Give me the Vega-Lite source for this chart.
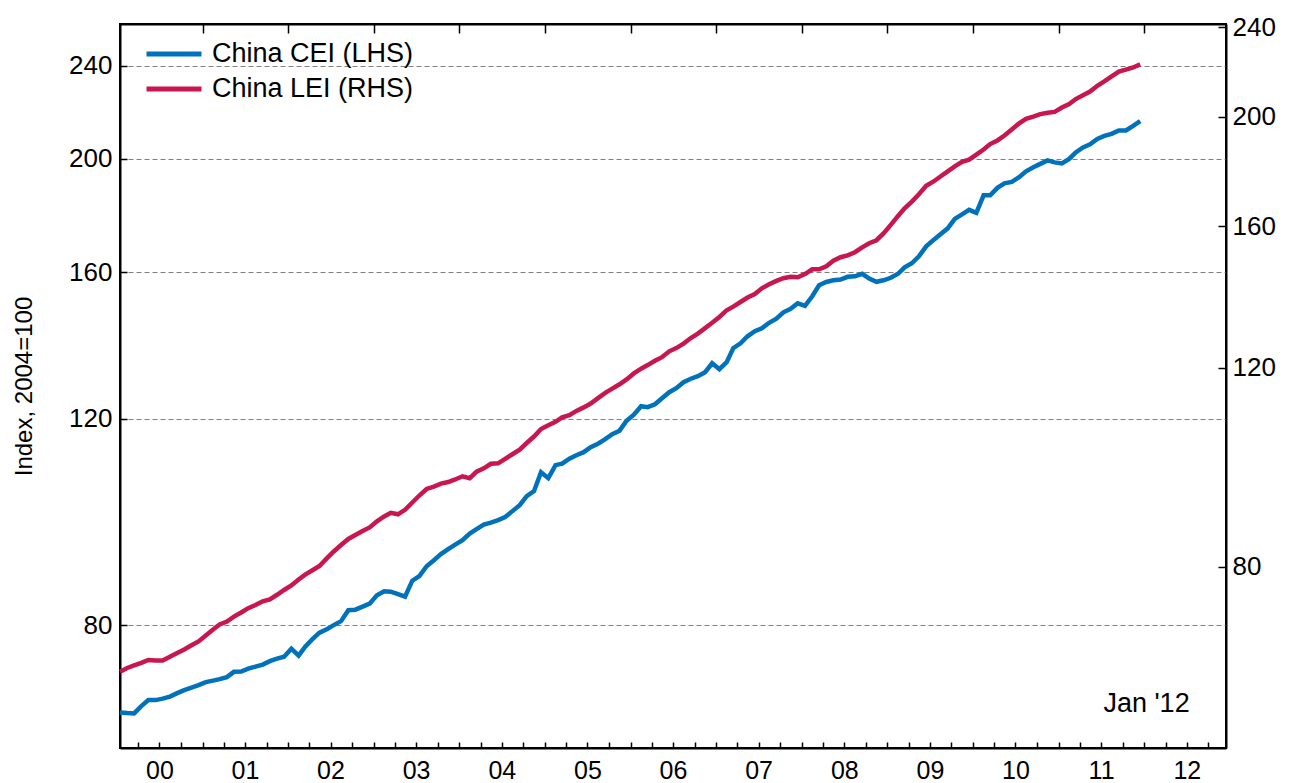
{
  "$schema": "https://vega.github.io/schema/vega-lite/v6.json",
  "width": 1106,
  "height": 724,
  "autosize": "none",
  "padding": {"left": 120, "top": 24, "right": 65, "bottom": 35},
  "background": "white",
  "config": {
    "font": "Liberation Sans",
    "view": {"stroke": "black", "strokeWidth": 2},
    "axis": {
      "domainColor": "black", "domainWidth": 2, "tickColor": "black", "tickWidth": 1.5,
      "labelColor": "black", "labelFont": "Liberation Sans", "labelFontSize": 25,
      "titleFont": "Liberation Sans", "titleColor": "black", "titleFontWeight": "normal"
    }
  },
  "data": {"values": [
    {"date":"2000-01-15","cei":67.40,"lei":64.65},{"date":"2000-02-15","cei":67.31,"lei":65.14},{"date":"2000-03-15","cei":67.27,"lei":65.47},{"date":"2000-04-15","cei":68.24,"lei":65.81},{"date":"2000-05-15","cei":69.05,"lei":66.21},{"date":"2000-06-15","cei":69.05,"lei":66.14},{"date":"2000-07-15","cei":69.25,"lei":66.14},{"date":"2000-08-15","cei":69.53,"lei":66.65},{"date":"2000-09-15","cei":70.00,"lei":67.16},{"date":"2000-10-15","cei":70.42,"lei":67.64},{"date":"2000-11-15","cei":70.76,"lei":68.22},{"date":"2000-12-15","cei":71.11,"lei":68.75},
    {"date":"2001-01-15","cei":71.53,"lei":69.59},{"date":"2001-02-15","cei":71.74,"lei":70.45},{"date":"2001-03-15","cei":71.95,"lei":71.17},{"date":"2001-04-15","cei":72.24,"lei":71.60},{"date":"2001-05-15","cei":72.99,"lei":72.31},{"date":"2001-06-15","cei":73.02,"lei":72.93},{"date":"2001-07-15","cei":73.45,"lei":73.57},{"date":"2001-08-15","cei":73.74,"lei":74.05},{"date":"2001-09-15","cei":74.03,"lei":74.61},{"date":"2001-10-15","cei":74.54,"lei":74.90},{"date":"2001-11-15","cei":74.91,"lei":75.60},{"date":"2001-12-15","cei":75.20,"lei":76.34},
    {"date":"2002-01-15","cei":76.39,"lei":77.04},{"date":"2002-02-15","cei":75.35,"lei":77.99},{"date":"2002-03-15","cei":76.69,"lei":78.77},{"date":"2002-04-15","cei":77.83,"lei":79.46},{"date":"2002-05-15","cei":78.83,"lei":80.16},{"date":"2002-06-15","cei":79.37,"lei":81.40},{"date":"2002-07-15","cei":80.00,"lei":82.56},{"date":"2002-08-15","cei":80.63,"lei":83.66},{"date":"2002-09-15","cei":82.39,"lei":84.69},{"date":"2002-10-15","cei":82.47,"lei":85.38},{"date":"2002-11-15","cei":82.96,"lei":86.08},{"date":"2002-12-15","cei":83.45,"lei":86.70},
    {"date":"2003-01-15","cei":84.85,"lei":87.80},{"date":"2003-02-15","cei":85.52,"lei":88.66},{"date":"2003-03-15","cei":85.44,"lei":89.33},{"date":"2003-04-15","cei":85.02,"lei":89.05},{"date":"2003-05-15","cei":84.60,"lei":89.87},{"date":"2003-06-15","cei":87.30,"lei":91.22},{"date":"2003-07-15","cei":88.09,"lei":92.52},{"date":"2003-08-15","cei":89.82,"lei":93.76},{"date":"2003-09-15","cei":90.89,"lei":94.23},{"date":"2003-10-15","cei":91.98,"lei":94.79},{"date":"2003-11-15","cei":92.89,"lei":95.10},{"date":"2003-12-15","cei":93.71,"lei":95.59},
    {"date":"2004-01-15","cei":94.54,"lei":96.21},{"date":"2004-02-15","cei":95.75,"lei":95.84},{"date":"2004-03-15","cei":96.60,"lei":97.11},{"date":"2004-04-15","cei":97.46,"lei":97.79},{"date":"2004-05-15","cei":97.84,"lei":98.69},{"date":"2004-06-15","cei":98.32,"lei":98.79},{"date":"2004-07-15","cei":98.91,"lei":99.70},{"date":"2004-08-15","cei":100.08,"lei":100.63},{"date":"2004-09-15","cei":101.26,"lei":101.58},{"date":"2004-10-15","cei":103.07,"lei":102.95},{"date":"2004-11-15","cei":104.08,"lei":104.32},{"date":"2004-12-15","cei":108.04,"lei":105.93},
    {"date":"2005-01-15","cei":106.77,"lei":106.73},{"date":"2005-02-15","cei":109.53,"lei":107.49},{"date":"2005-03-15","cei":109.86,"lei":108.48},{"date":"2005-04-15","cei":110.94,"lei":108.95},{"date":"2005-05-15","cei":111.70,"lei":109.90},{"date":"2005-06-15","cei":112.36,"lei":110.69},{"date":"2005-07-15","cei":113.47,"lei":111.55},{"date":"2005-08-15","cei":114.25,"lei":112.80},{"date":"2005-09-15","cei":115.27,"lei":114.00},{"date":"2005-10-15","cei":116.40,"lei":115.00},{"date":"2005-11-15","cei":117.21,"lei":116.02},{"date":"2005-12-15","cei":119.53,"lei":117.18},
    {"date":"2006-01-15","cei":120.95,"lei":118.62},{"date":"2006-02-15","cei":122.98,"lei":119.76},{"date":"2006-03-15","cei":122.74,"lei":120.64},{"date":"2006-04-15","cei":123.46,"lei":121.72},{"date":"2006-05-15","cei":124.93,"lei":122.59},{"date":"2006-06-15","cei":126.41,"lei":124.07},{"date":"2006-07-15","cei":127.40,"lei":124.88},{"date":"2006-08-15","cei":128.91,"lei":126.03},{"date":"2006-09-15","cei":129.80,"lei":127.47},{"date":"2006-10-15","cei":130.44,"lei":128.62},{"date":"2006-11-15","cei":131.47,"lei":130.07},{"date":"2006-12-15","cei":133.80,"lei":131.48},
    {"date":"2007-01-15","cei":132.24,"lei":133.04},{"date":"2007-02-15","cei":134.07,"lei":134.89},{"date":"2007-03-15","cei":137.80,"lei":135.88},{"date":"2007-04-15","cei":139.16,"lei":137.16},{"date":"2007-05-15","cei":141.08,"lei":138.42},{"date":"2007-06-15","cei":142.48,"lei":139.41},{"date":"2007-07-15","cei":143.32,"lei":141.04},{"date":"2007-08-15","cei":144.87,"lei":142.22},{"date":"2007-09-15","cei":146.02,"lei":143.20},{"date":"2007-10-15","cei":147.89,"lei":143.96},{"date":"2007-11-15","cei":148.91,"lei":144.38},{"date":"2007-12-15","cei":150.53,"lei":144.23},
    {"date":"2008-01-15","cei":149.79,"lei":145.17},{"date":"2008-02-15","cei":152.61,"lei":146.60},{"date":"2008-03-15","cei":155.94,"lei":146.60},{"date":"2008-04-15","cei":156.95,"lei":147.52},{"date":"2008-05-15","cei":157.48,"lei":149.18},{"date":"2008-06-15","cei":157.69,"lei":150.25},{"date":"2008-07-15","cei":158.56,"lei":150.83},{"date":"2008-08-15","cei":158.72,"lei":151.79},{"date":"2008-09-15","cei":159.50,"lei":153.31},{"date":"2008-10-15","cei":158.00,"lei":154.59},{"date":"2008-11-15","cei":157.01,"lei":155.54},{"date":"2008-12-15","cei":157.48,"lei":157.70},
    {"date":"2009-01-15","cei":158.25,"lei":160.46},{"date":"2009-02-15","cei":159.50,"lei":163.42},{"date":"2009-03-15","cei":161.55,"lei":166.00},{"date":"2009-04-15","cei":162.82,"lei":168.25},{"date":"2009-05-15","cei":165.07,"lei":170.80},{"date":"2009-06-15","cei":168.34,"lei":173.74},{"date":"2009-07-15","cei":170.34,"lei":175.20},{"date":"2009-08-15","cei":172.36,"lei":177.06},{"date":"2009-09-15","cei":174.39,"lei":178.94},{"date":"2009-10-15","cei":177.68,"lei":180.76},{"date":"2009-11-15","cei":179.25,"lei":182.46},{"date":"2009-12-15","cei":180.84,"lei":183.25},
    {"date":"2010-01-15","cei":179.78,"lei":185.16},{"date":"2010-02-15","cei":186.06,"lei":187.05},{"date":"2010-03-15","cei":186.06,"lei":189.16},{"date":"2010-04-15","cei":188.82,"lei":190.55},{"date":"2010-05-15","cei":190.50,"lei":192.46},{"date":"2010-06-15","cei":191.06,"lei":194.86},{"date":"2010-07-15","cei":192.75,"lei":197.17},{"date":"2010-08-15","cei":195.04,"lei":199.11},{"date":"2010-09-15","cei":196.58,"lei":200.04},{"date":"2010-10-15","cei":197.93,"lei":201.06},{"date":"2010-11-15","cei":199.29,"lei":201.63},{"date":"2010-12-15","cei":198.51,"lei":201.96},
    {"date":"2011-01-15","cei":198.12,"lei":203.78},{"date":"2011-02-15","cei":199.88,"lei":205.19},{"date":"2011-03-15","cei":202.45,"lei":207.29},{"date":"2011-04-15","cei":204.44,"lei":208.90},{"date":"2011-05-15","cei":205.65,"lei":210.48},{"date":"2011-06-15","cei":207.89,"lei":212.98},{"date":"2011-07-15","cei":209.11,"lei":214.86},{"date":"2011-08-15","cei":209.93,"lei":217.05},{"date":"2011-09-15","cei":211.38,"lei":219.18},{"date":"2011-10-15","cei":211.38,"lei":220.07},{"date":"2011-11-15","cei":213.26,"lei":221.06},{"date":"2011-12-15","cei":215.28,"lei":222.46}
  ]},
  "layer": [
    {
      "mark": {"type": "line", "strokeWidth": 4.5},
      "encoding": {
        "x": {
          "field": "date", "type": "temporal",
          "scale": {"type": "utc", "nice": false, "domain": [{"year": 2000, "month": 1, "date": 15, "utc": true}, {"year": 2012, "month": 12, "date": 15, "utc": true}]},
          "axis": {"title": null, "tickCount": {"interval": "month", "step": 3}, "tickSize": -6, "grid": false,
                   "labelExpr": "utcmonth(datum.value) == 6 ? utcFormat(datum.value, '%y') : ''",
                   "labelOverlap": false, "labelFlush": false, "labelPadding": 16}
        },
        "y": {
          "field": "cei", "type": "quantitative",
          "scale": {"type": "log", "domain": [62.85, 260.5], "nice": false},
          "axis": {"orient": "left", "values": [80, 120, 160, 200, 240], "format": "d", "title": "Index, 2004=100",
                   "labelFontSize": 26, "titleFontSize": 24, "titlePadding": 32, "grid": true, "gridDash": [5, 3], "gridColor": "#808080",
                   "gridWidth": 1, "tickSize": -7, "labelPadding": 15}
        },
        "color": {
          "datum": "China CEI (LHS)", "type": "nominal",
          "scale": {"domain": ["China CEI (LHS)", "China LEI (RHS)"], "range": ["#0072BC", "#C8174E"]},
          "legend": {"orient": "none", "legendX": 24, "legendY": 15, "title": null, "symbolType": "stroke",
                     "symbolSize": 3025, "symbolStrokeWidth": 5, "clipHeight": 30, "rowPadding": 5,
                     "labelFontSize": 27, "labelOffset": 8, "labelLimit": 500, "labelColor": "black", "labelFont": "Liberation Sans", "padding": 0}
        }
      }
    },
    {
      "mark": {"type": "line", "strokeWidth": 4.5},
      "encoding": {
        "x": {
          "field": "date", "type": "temporal",
          "axis": {"title": null, "tickCount": {"interval": "year", "step": 1}, "tickSize": -9, "labels": false, "grid": false}
        },
        "y": {
          "field": "lei", "type": "quantitative",
          "scale": {"type": "log", "domain": [55.35, 241.5], "nice": false},
          "axis": {"orient": "right", "values": [80, 120, 160, 200, 240], "format": "d", "title": null,
                   "labelFontSize": 26, "grid": false, "tickSize": -8, "labelPadding": 14}
        },
        "color": {"datum": "China LEI (RHS)", "type": "nominal"}
      }
    },
    {
      "data": {"values": [{"label": "Jan '12"}]},
      "mark": {"type": "text", "align": "right", "baseline": "alphabetic", "fontSize": 27, "font": "Liberation Sans", "color": "black"},
      "encoding": {
        "text": {"field": "label"},
        "x": {"datum": {"year": 2012, "month": 7, "date": 13, "utc": true}, "type": "temporal", "axis": null},
        "y": {"datum": 67.5, "type": "quantitative", "scale": {"type": "log", "domain": [62.85, 260.5], "nice": false}, "axis": null}
      }
    }
  ],
  "resolve": {"scale": {"y": "independent"}, "axis": {"x": "independent"}}
}
